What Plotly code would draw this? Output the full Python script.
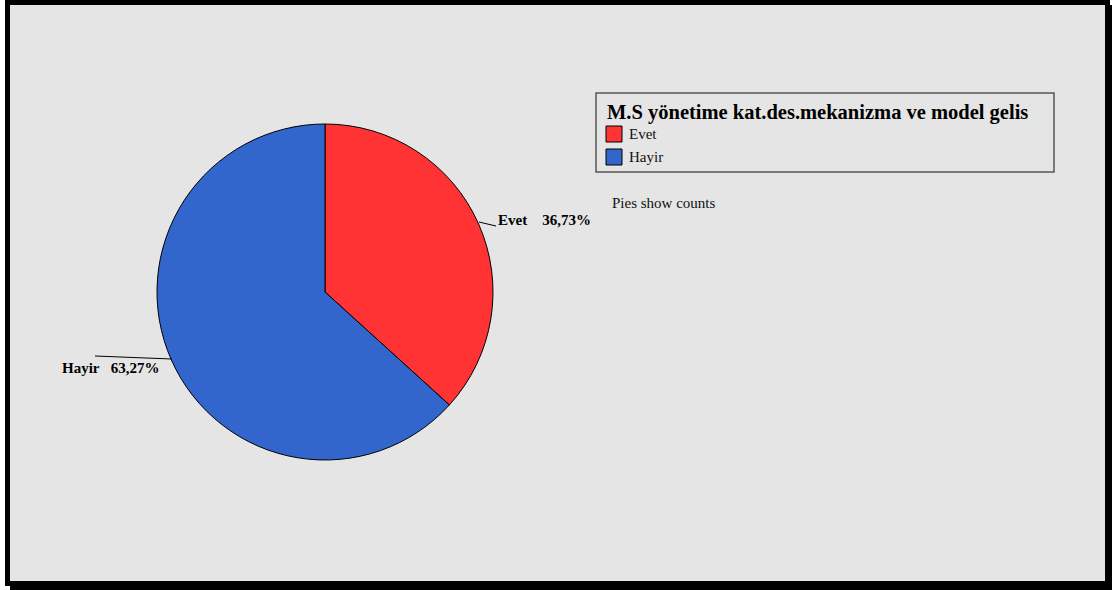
import plotly.graph_objects as go

categories = ["Evet", "Hayir"]
counts = [18, 31]
colors = ["#FF3333", "#3366CC"]
legend_title = "M.S yönetime kat.des.mekanizma ve model gelis"
note_text = "Pies show counts"

W, H = 1112, 590
FONT = "Liberation Serif, Times New Roman, serif"


def px(x):
    return x / W


def py(y):
    return 1 - y / H


total = sum(counts)
pct = [c / total * 100 for c in counts]

fig = go.Figure()
# pie centered at (325, 292) with radius 168
fig.add_trace(go.Pie(
    labels=categories,
    values=counts,
    sort=False,
    direction="clockwise",
    rotation=0,
    marker=dict(colors=colors, line=dict(color="black", width=1)),
    textinfo="none",
    hoverinfo="label+value+percent",
    showlegend=False,
    domain=dict(x=[px(157), px(493)], y=[py(460), py(124)]),
))

shapes = []
# frame
shapes.append(dict(type="rect", xref="paper", yref="paper", x0=px(5), x1=px(1110), y0=py(586), y1=py(0),
                   fillcolor="black", line=dict(width=0), layer="below"))
shapes.append(dict(type="rect", xref="paper", yref="paper", x0=px(10), x1=px(1112), y0=py(590), y1=py(5),
                   fillcolor="black", line=dict(width=0), layer="below"))
shapes.append(dict(type="rect", xref="paper", yref="paper", x0=px(10), x1=px(1105), y0=py(581), y1=py(5),
                   fillcolor="#E5E5E5", line=dict(width=0), layer="below"))
# legend box
shapes.append(dict(type="rect", xref="paper", yref="paper", x0=px(596), x1=px(1054), y0=py(172), y1=py(93),
                   fillcolor="rgba(0,0,0,0)", line=dict(color="#555555", width=1.5)))
# legend swatches
sw_y = [126, 149]
for i, c in enumerate(colors):
    shapes.append(dict(type="rect", xref="paper", yref="paper", x0=px(606), x1=px(622),
                       y0=py(sw_y[i] + 16), y1=py(sw_y[i]),
                       fillcolor=c, line=dict(color="black", width=1)))
# leader lines
shapes.append(dict(type="line", xref="paper", yref="paper", x0=px(479), y0=py(222), x1=px(496), y1=py(226),
                   line=dict(color="black", width=1)))
shapes.append(dict(type="line", xref="paper", yref="paper", x0=px(95), y0=py(356), x1=px(172), y1=py(359),
                   line=dict(color="black", width=1)))

annotations = []
annotations.append(dict(xref="paper", yref="paper", x=px(605), y=py(113), xanchor="left", yanchor="middle",
                        text="<b>" + legend_title + "</b>", showarrow=False,
                        font=dict(family=FONT, size=20.5, color="black")))
for i, cat in enumerate(categories):
    annotations.append(dict(xref="paper", yref="paper", x=px(627), y=py(sw_y[i] + 8), xanchor="left",
                            yanchor="middle", text=cat, showarrow=False,
                            font=dict(family=FONT, size=15, color="#111111")))
annotations.append(dict(xref="paper", yref="paper", x=px(610), y=py(203), xanchor="left", yanchor="middle",
                        text=note_text, showarrow=False, font=dict(family=FONT, size=15, color="#111111")))


def fmt(p):
    return f"{p:.2f}".replace(".", ",") + "%"


label_pos = [(496, 220, "left"), (60, 368, "left")]
label_gap = ["&nbsp;&nbsp;&nbsp;&nbsp;", "&nbsp;&nbsp;&nbsp;"]
for i, cat in enumerate(categories):
    x, y, anc = label_pos[i]
    annotations.append(dict(xref="paper", yref="paper", x=px(x), y=py(y), xanchor=anc, yanchor="middle",
                            text="<b>" + cat + label_gap[i] + fmt(pct[i]) + "</b>", showarrow=False,
                            font=dict(family=FONT, size=15, color="black")))

fig.update_layout(
    width=W, height=H,
    margin=dict(l=0, r=0, t=0, b=0),
    paper_bgcolor="white",
    plot_bgcolor="white",
    shapes=shapes,
    annotations=annotations,
)

fig.write_html("out.html", config={"displayModeBar": False},
               post_script="document.body.style.margin='0';document.body.style.overflow='hidden';")
